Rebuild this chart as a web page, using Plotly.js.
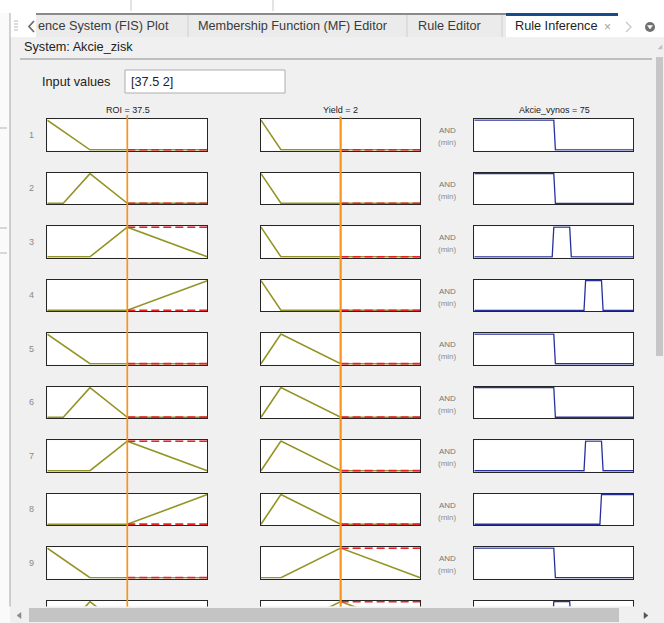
<!DOCTYPE html>
<html>
<head>
<meta charset="utf-8">
<script src="https://cdn.plot.ly/plotly-3.0.1.min.js"></script>
<style>
  html, body { margin: 0; padding: 0; background: #f0f0f0; overflow: hidden; }
  #fis { width: 664px; height: 623px; }
</style>
</head>
<body>
<div id="fis"></div>
<script>
// ---------------- FIS "Akcie_zisk" ----------------
const systemName = 'Akcie_zisk';
const inputNames = ['ROI', 'Yield'];
const outputName = 'Akcie_vynos';

const roiRange = [0, 75];
const yieldRange = [0, 4];
const outRange = [0, 100];

const roiInput = 37.5;
const yieldInput = 2;
const outValue = 75;

// membership functions as trapezoid parameters [a, b, c, d]
const roiLow = [-20, 0, 0, 20];
const roiMedLow = [7.5, 20, 20, 37.5];
const roiMedium = [20, 37.5, 37.5, 75];
const roiHigh = [37.5, 75, 75, 112.5];

const yieldLow = [-0.5, 0, 0, 0.5];
const yieldMid = [0, 0.5, 0.5, 2];
const yieldHigh = [0.5, 2, 2, 4];

const outLow = [0, 0, 50, 51];
const outMedium = [49, 50, 60, 61];
const outHigh = [69, 70, 80, 81];
const outVeryHigh = [79, 80, 100, 100];

// rules listed in the viewer
const ruleNumbers = [1, 2, 3, 4, 5, 6, 7, 8, 9, 10];
const ruleROI = [roiLow, roiMedLow, roiMedium, roiHigh, roiLow, roiMedLow, roiMedium, roiHigh, roiLow, roiMedLow];
const ruleYield = [yieldLow, yieldLow, yieldLow, yieldLow, yieldMid, yieldMid, yieldMid, yieldMid, yieldHigh, yieldHigh];
const ruleOut = [outLow, outLow, outMedium, outHigh, outLow, outLow, outHigh, outVeryHigh, outLow, outMedium];
const ruleOperator = 'AND';
const ruleMethod = '(min)';

// window tabs
const tabLabels = ['ence System (FIS) Plot', 'Membership Function (MF) Editor', 'Rule Editor', 'Rule Inference'];

// ---------------- helpers ----------------
function trap(p, x) {
  const [a, b, c, d] = p;
  const l = b === a ? (x >= a ? 1 : 0) : (x - a) / (b - a);
  const r = d === c ? (x <= d ? 1 : 0) : (d - x) / (d - c);
  return Math.max(0, Math.min(l, 1, r));
}
function mfCurve(p, range) {
  const pts = [range[0], ...p, range[1]].filter(v => v >= range[0] && v <= range[1]);
  const xs = [...new Set(pts)].sort((m, n) => m - n);
  return { x: xs, y: xs.map(v => trap(p, v)) };
}

const W = 664, H = 623;
const fx = px => px / W;
const fy = py => 1 - py / H;
const FONT = 'Liberation Sans, Arial, sans-serif';

const colBox = [[47.3, 207.3], [261, 420.3], [474.3, 633.3]];
const rowTop0 = 119.3, rowStep = 53.49, boxH = 31.4, viewBottom = 606.5;

const data = [];
const shapes = [];
const annotations = [];
const layout = {
  width: W, height: H,
  margin: { l: 0, r: 0, t: 0, b: 0, pad: 0 },
  paper_bgcolor: '#f0f0f0',
  plot_bgcolor: '#ffffff',
  showlegend: false,
  shapes: shapes,
  annotations: annotations
};

function text(t, x, y, size, color, anchor) {
  annotations.push({
    text: t, xref: 'paper', yref: 'paper', x: fx(x), y: fy(y),
    xanchor: anchor || 'left', yanchor: 'middle', showarrow: false,
    font: { family: FONT, size: size, color: color }, borderpad: 0
  });
}
function rect(x0, y0, x1, y1, fill, layer, lineColor) {
  shapes.push({
    type: 'rect', xref: 'paper', yref: 'paper',
    x0: fx(x0), x1: fx(x1), y0: fy(y1), y1: fy(y0),
    fillcolor: fill, layer: layer || 'below',
    line: { width: lineColor ? 1 : 0, color: lineColor || fill }
  });
}
function seg(x0, y0, x1, y1, color, width, layer) {
  shapes.push({
    type: 'line', xref: 'paper', yref: 'paper',
    x0: fx(x0), x1: fx(x1), y0: fy(y0), y1: fy(y1),
    layer: layer || 'below', line: { color: color, width: width }
  });
}
function poly(points, color, width, fill, layer) {
  const d = points.map((p, j) => (j ? 'L' : 'M') + fx(p[0]) + ',' + fy(p[1])).join(' ') + (fill ? ' Z' : '');
  shapes.push({
    type: 'path', xref: 'paper', yref: 'paper', path: d, layer: layer || 'below',
    fillcolor: fill || 'rgba(0,0,0,0)', line: { color: color, width: width }
  });
}

// ---------------- window chrome (below the plots) ----------------
rect(0, 0, W, 13, '#ffffff');
rect(0, 13, 10, H, '#fafafa');
rect(10, 13, 36, 37, '#ffffff');
rect(36, 14, 506, 37, '#ebebeb');
rect(506, 13, 618, 37, '#ffffff');
rect(618, 13, W, 37, '#ffffff');
seg(36, 14, 506, 14, '#8a8a8a', 2);
rect(506, 13, 618, 16, '#164c8c');
[188, 407, 502].forEach(x => seg(x, 15, x, 37, '#cfcfcf', 1));
seg(10, 13, 10, 607, '#a8a8a8', 1);
seg(20, 59, 652, 59, '#8c8c8c', 1);
rect(125, 70, 285, 93, '#ffffff', 'below', '#adadad');
// faint edges of windows behind
seg(131, 0, 131, 11, '#c8c8c8', 1);
seg(273, 0, 273, 11, '#c8c8c8', 1);
[128, 228, 253].forEach(y => seg(0, y, 7, y, '#b4b4b4', 1));

// tab icons
[21, 24, 27, 30].forEach(y => seg(14, y, 18, y, '#b8b8b8', 1));
poly([[34, 21], [29, 26.5], [34, 32]], '#6e6e6e', 1.8);
poly([[626, 22], [631, 27], [626, 32]], '#c8c8c8', 1.3);
shapes.push({ type: 'circle', xref: 'paper', yref: 'paper', layer: 'below',
  x0: fx(645), x1: fx(655), y0: fy(32), y1: fy(22), fillcolor: '#707070', line: { width: 0 } });
poly([[647.5, 25.5], [652.5, 25.5], [650, 29]], '#ffffff', 0.5, '#ffffff');

// tab and header texts
text(tabLabels[0], 37, 26.5, 12.7, '#3a3a3a');
text(tabLabels[1], 197, 26.5, 12.7, '#3a3a3a');
text(tabLabels[2], 417, 26.5, 12.7, '#3a3a3a');
text(tabLabels[3], 514, 26.5, 12.7, '#1e1e1e');
text('×', 603, 27, 12, '#a0a0a0');
text('System: ' + systemName, 23, 46.7, 12.7, '#222222');
text('Input values', 41, 82, 12.7, '#222222');
text('[' + roiInput + ' ' + yieldInput + ']', 130, 82, 12.7, '#222222');

// column titles
text(inputNames[0] + ' = ' + roiInput, 127.5, 110, 9, '#1a1a1a', 'center');
text(inputNames[1] + ' = ' + yieldInput, 341, 110, 9, '#1a1a1a', 'center');
text(outputName + ' = ' + outValue, 554, 110, 9, '#1a1a1a', 'center');

// ---------------- rule subplots ----------------
const columns = [
  { mfs: ruleROI, range: roiRange, input: roiInput, color: '#949426', width: 1.6 },
  { mfs: ruleYield, range: yieldRange, input: yieldInput, color: '#949426', width: 1.6 },
  { mfs: ruleOut, range: outRange, input: null, color: '#27309a', width: 1.3 }
];

ruleNumbers.forEach((num, i) => {
  const top = rowTop0 + i * rowStep;
  if (top >= viewBottom) return;
  const bot = Math.min(top + boxH, viewBottom);
  const pad = 0.03;
  const ppu = boxH / (1 + 2 * pad);
  const yRange = [1 + pad - (bot - top) / ppu, 1 + pad];

  columns.forEach((col, c) => {
    const k = i * 3 + c + 1;
    const xr = k === 1 ? 'x' : 'x' + k;
    const yr = k === 1 ? 'y' : 'y' + k;
    const common = {
      showticklabels: false, ticks: '', showgrid: false, zeroline: false,
      showline: true, mirror: true, linecolor: '#262626', linewidth: 1,
      layer: 'below traces', fixedrange: true
    };
    layout['xaxis' + (k === 1 ? '' : k)] = Object.assign({}, common, {
      domain: [fx(colBox[c][0]), fx(colBox[c][1])], range: col.range.slice(), anchor: yr
    });
    layout['yaxis' + (k === 1 ? '' : k)] = Object.assign({}, common, {
      domain: [fy(bot), fy(top)], range: yRange, anchor: xr
    });

    const p = col.mfs[i];
    const curve = mfCurve(p, col.range);
    data.push({
      type: 'scatter', mode: 'lines', x: curve.x, y: curve.y, xaxis: xr, yaxis: yr,
      line: { color: col.color, width: col.width }, hoverinfo: 'skip'
    });
    if (col.input !== null) {
      const mu = trap(p, col.input);
      data.push({
        type: 'scatter', mode: 'lines', x: [col.input, col.range[1]], y: [mu, mu], xaxis: xr, yaxis: yr,
        line: { color: '#e82028', width: 1.8, dash: '8px,4px' }, hoverinfo: 'skip'
      });
    }
  });

  const mid = top + boxH / 2;
  if (mid < viewBottom - 4) {
    text(String(num), 31.3, mid, 9, '#8a8a8a', 'center');
    text(ruleOperator, 447, top + 11.4, 8, '#777777', 'center');
    text(ruleMethod, 447, top + 23.4, 8, '#8c8c8c', 'center');
  }
});

// input value markers spanning all rules
shapes.push({ type: 'line', xref: 'x', yref: 'paper', x0: roiInput, x1: roiInput,
  y0: fy(607), y1: fy(115), layer: 'above', line: { color: '#f7941e', width: 1.7 } });
shapes.push({ type: 'line', xref: 'x2', yref: 'paper', x0: yieldInput, x1: yieldInput,
  y0: fy(607), y1: fy(116.5), layer: 'above', line: { color: '#f7941e', width: 2.2 } });

// ---------------- scrollbars (above the plots) ----------------
rect(10.5, viewBottom, W, H, '#f0f0f0', 'above');
rect(0, viewBottom, 10, H, '#fafafa', 'above');
rect(29, 608, 619, 622, '#c4c4c4', 'above');
poly([[21, 612.5], [17, 615.5], [21, 618.5]], '#8a8a8a', 0.5, '#8a8a8a', 'above');
poly([[644, 612.5], [648, 615.5], [644, 618.5]], '#555555', 0.5, '#555555', 'above');
rect(656, 57, 663, 356, '#c6c6c6', 'above');
poly([[658, 49], [662, 49], [662, 45]], '#c0c0c0', 0.5, '#c0c0c0', 'above');

Plotly.newPlot('fis', data, layout, { staticPlot: true, displayModeBar: false });
</script>
</body>
</html>
